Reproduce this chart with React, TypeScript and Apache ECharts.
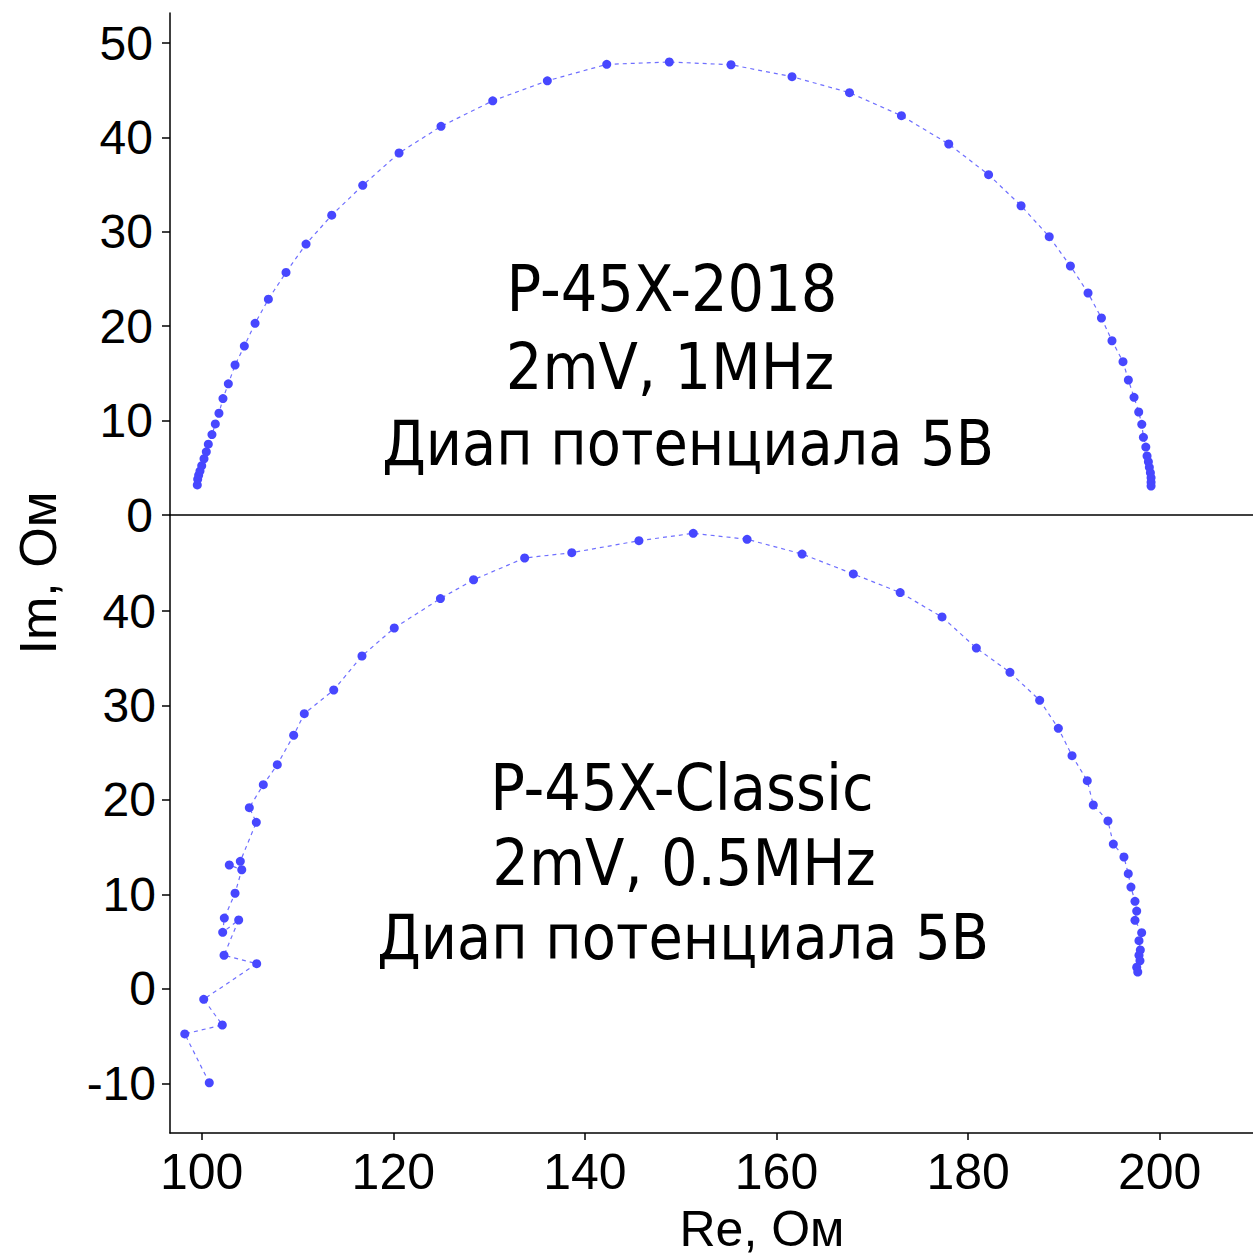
import React, { useEffect, useRef } from "react";
import * as echarts from "echarts";

// P-45X-2018 (top panel): Re, Im in Ohm
const reTop = [
  99.54, 99.58, 99.68, 99.82, 100.0, 100.24, 100.48, 100.69, 101.07, 101.42,
  101.8, 102.22, 102.78, 103.48, 104.45, 105.57, 106.96, 108.8, 110.89, 113.57,
  116.81, 120.6, 124.98, 130.38, 136.08, 142.28, 148.81, 155.25, 161.62, 167.62,
  173.04, 177.98, 182.14, 185.53, 188.47, 190.68, 192.52, 193.92, 195.02, 196.17,
  196.73, 197.32, 197.81, 198.13, 198.3, 198.55, 198.68, 198.82, 198.92, 199.03,
  199.1, 199.1, 199.1,
];
const imTop = [
  3.19, 3.78, 4.21, 4.65, 5.23, 5.96, 6.69, 7.5, 8.52, 9.65,
  10.78, 12.33, 13.9, 15.89, 17.89, 20.31, 22.86, 25.7, 28.7, 31.76,
  34.92, 38.35, 41.17, 43.88, 46.0, 47.74, 47.99, 47.7, 46.43, 44.74,
  42.3, 39.3, 36.05, 32.76, 29.48, 26.38, 23.52, 20.87, 18.46, 16.24,
  14.3, 12.47, 10.91, 9.61, 8.23, 7.2, 6.25, 5.64, 5.05, 4.48,
  3.95, 3.46, 3.07,
];

// P-45X-Classic (bottom panel)
const reBottom = [
  100.79, 98.23, 102.15, 100.21, 105.74, 102.33, 103.86, 102.19, 102.36, 103.48,
  104.18, 102.88, 104.03, 105.7, 104.97, 106.43, 107.89, 109.6, 110.71, 113.78,
  116.73, 120.1, 124.92, 128.38, 133.71, 138.63, 145.64, 151.31, 156.93, 162.67,
  168.02, 172.91, 177.28, 180.86, 184.37, 187.47, 189.42, 190.85, 192.44, 193.07,
  194.6, 195.16, 196.27, 196.72, 197.0, 197.42, 197.6, 197.42, 198.12, 197.84,
  197.98, 197.84, 197.94, 197.6, 197.71,
];
const imBottom = [
  -9.92, -4.76, -3.81, -1.09, 2.68, 3.57, 7.3, 6.0, 7.51, 10.13,
  12.62, 13.12, 13.51, 17.64, 19.19, 21.62, 23.74, 26.85, 29.13, 31.64,
  35.24, 38.2, 41.32, 43.31, 45.61, 46.17, 47.44, 48.22, 47.59, 46.03,
  43.92, 41.95, 39.37, 36.08, 33.51, 30.55, 27.59, 24.69, 22.04, 19.47,
  17.78, 15.34, 13.97, 12.2, 10.79, 9.28, 8.25, 7.27, 5.96, 5.11,
  4.13, 3.57, 2.99, 2.3, 1.8,
];

const xTicks = [100, 120, 140, 160, 180, 200];
const yTicksTop = [0, 10, 20, 30, 40, 50];
const yTicksBottom = [-10, 0, 10, 20, 30, 40];

const topLabels = ["P-45X-2018", "2mV, 1MHz", "Диап потенциала 5В"];
const bottomLabels = ["P-45X-Classic", "2mV, 0.5MHz", "Диап потенциала 5В"];

const X_MIN = 96.69;
const X_MAX = 209.74;

export default function App() {
  const ref = useRef<HTMLDivElement | null>(null);

  useEffect(() => {
    document.body.style.margin = "0";
    if (!ref.current) return;
    const chart = echarts.init(ref.current, null, { renderer: "svg" });

    const axisFont = "'Liberation Sans', Arial, sans-serif";
    const annFont = "'DejaVu Sans Condensed', 'DejaVu Sans', sans-serif";
    const axisLineStyle = { color: "#000", width: 1.5 };

    const seriesStyle = {
      type: "line" as const,
      symbol: "circle",
      symbolSize: 9,
      itemStyle: { color: "#4747ff" },
      lineStyle: { color: "#6f6fff", width: 1.2, type: [4, 4] as any },
      emphasis: { disabled: true },
    };

    const annSizes = [64, 64, 62];
    const topText = topLabels.map((t, i) => ({
      type: "text",
      x: [672, 670, 688][i],
      y: [289, 367, 443][i],
      style: {
        text: t,
        fontSize: annSizes[i],
        fontFamily: annFont,
        fill: "#000",
        textAlign: "center",
        textVerticalAlign: "middle",
      },
    }));
    const bottomText = bottomLabels.map((t, i) => ({
      type: "text",
      x: [682, 684, 683][i],
      y: [788, 863, 937][i],
      style: {
        text: t,
        fontSize: annSizes[i],
        fontFamily: annFont,
        fill: "#000",
        textAlign: "center",
        textVerticalAlign: "middle",
      },
    }));

    chart.setOption({
      animation: false,
      backgroundColor: "#fff",
      grid: [
        { left: 170, right: 0, top: 13, height: 502 },
        { left: 170, right: 0, top: 515, bottom: 124 },
      ],
      xAxis: [
        {
          type: "value",
          gridIndex: 0,
          min: X_MIN,
          max: X_MAX,
          axisLine: { show: true, onZero: false, lineStyle: axisLineStyle },
          axisTick: { show: false },
          axisLabel: { show: false },
          splitLine: { show: false },
        },
        {
          type: "value",
          gridIndex: 1,
          min: X_MIN,
          max: X_MAX,
          axisLine: { show: true, onZero: false, lineStyle: axisLineStyle },
          axisTick: { show: true, length: 7, lineStyle: { color: "#000", width: 1.5 }, customValues: xTicks },
          axisLabel: {
            show: true,
            customValues: xTicks,
            fontSize: 50,
            fontFamily: axisFont,
            color: "#000",
            margin: 14,
          },
          splitLine: { show: false },
        },
      ],
      yAxis: [
        {
          type: "value",
          gridIndex: 0,
          min: 0,
          max: 53.18,
          axisLine: { show: true, onZero: false, lineStyle: axisLineStyle },
          axisTick: { show: true, length: 8, lineStyle: { color: "#000", width: 1.5 }, customValues: yTicksTop },
          axisLabel: {
            show: true,
            customValues: yTicksTop,
            fontSize: 48,
            fontFamily: axisFont,
            color: "#000",
            margin: 17,
          },
          splitLine: { show: false },
        },
        {
          type: "value",
          gridIndex: 1,
          min: -15.24,
          max: 50.16,
          axisLine: { show: true, onZero: false, lineStyle: axisLineStyle },
          axisTick: { show: true, length: 8, lineStyle: { color: "#000", width: 1.5 }, customValues: yTicksBottom },
          axisLabel: {
            show: true,
            customValues: yTicksBottom,
            fontSize: 48,
            fontFamily: axisFont,
            color: "#000",
            margin: 14,
          },
          splitLine: { show: false },
        },
      ],
      series: [
        {
          ...seriesStyle,
          name: "P-45X-2018",
          xAxisIndex: 0,
          yAxisIndex: 0,
          data: reTop.map((r, i) => [r, imTop[i]]),
        },
        {
          ...seriesStyle,
          name: "P-45X-Classic",
          xAxisIndex: 1,
          yAxisIndex: 1,
          data: reBottom.map((r, i) => [r, imBottom[i]]),
        },
      ],
      graphic: [
        ...topText,
        ...bottomText,
        {
          type: "text",
          x: 38,
          y: 573,
          rotation: Math.PI / 2,
          style: {
            text: "Im, Ом",
            fontSize: 52,
            fontFamily: axisFont,
            fill: "#000",
            textAlign: "center",
            textVerticalAlign: "middle",
          },
        },
        {
          type: "text",
          x: 762,
          y: 1229,
          style: {
            text: "Re, Ом",
            fontSize: 50,
            fontFamily: axisFont,
            fill: "#000",
            textAlign: "center",
            textVerticalAlign: "middle",
          },
        },
      ],
    });

    return () => {
      chart.dispose();
    };
  }, []);

  return (
    <div
      ref={ref}
      style={{ position: "absolute", left: 0, top: 0, width: 1253, height: 1257 }}
    />
  );
}
